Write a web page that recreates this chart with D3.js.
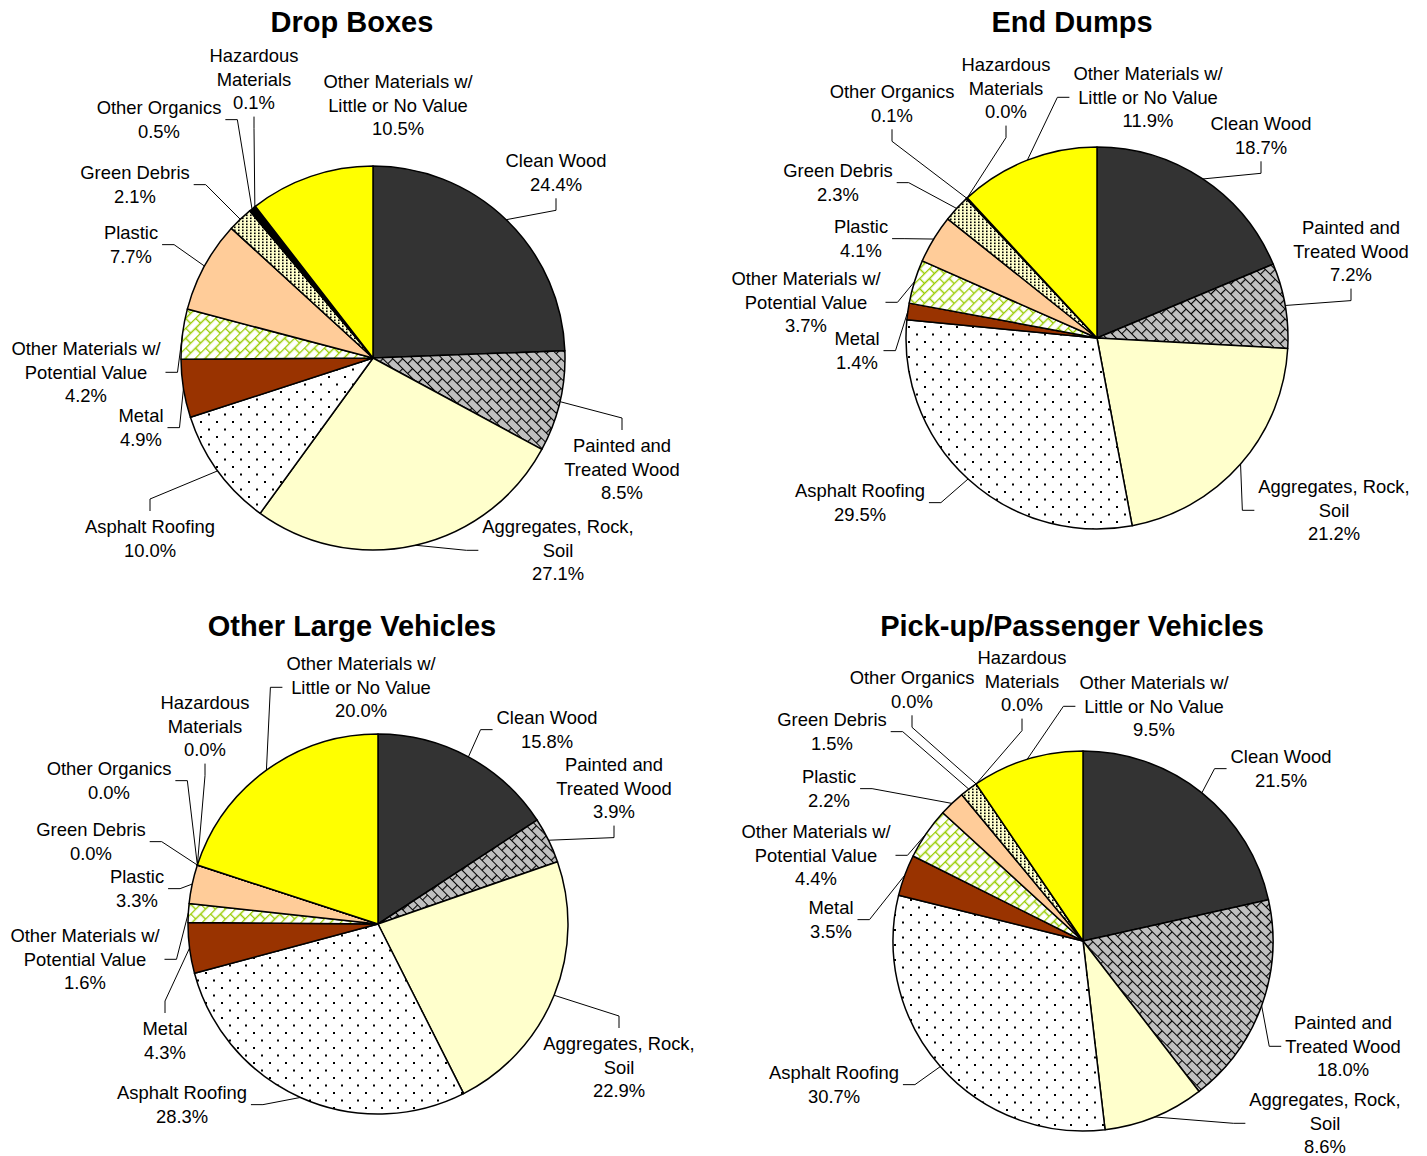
<!DOCTYPE html>
<html><head><meta charset="utf-8">
<script src="https://cdn.jsdelivr.net/npm/d3@7"></script>
<style>body{margin:0;background:#fff}</style></head>
<body><svg id="c" width="1427" height="1156"></svg>
<script>
// ---- DATA ----
const categories = ["Clean Wood","Painted and Treated Wood","Aggregates, Rock, Soil","Asphalt Roofing","Metal",
  "Other Materials w/ Potential Value","Plastic","Green Debris","Other Organics","Hazardous Materials",
  "Other Materials w/ Little or No Value"];
const categoryLabelLines = [["Clean Wood"],["Painted and","Treated Wood"],["Aggregates, Rock,","Soil"],["Asphalt Roofing"],["Metal"],
  ["Other Materials w/","Potential Value"],["Plastic"],["Green Debris"],["Other Organics"],["Hazardous","Materials"],
  ["Other Materials w/","Little or No Value"]];
const chartTitles = ["Drop Boxes","End Dumps","Other Large Vehicles","Pick-up/Passenger Vehicles"];
const dropBoxes  = [24.4, 8.5, 27.1, 10.0, 4.9, 4.2, 7.7, 2.1, 0.5, 0.1, 10.5];
const endDumps   = [18.7, 7.2, 21.2, 29.5, 1.4, 3.7, 4.1, 2.3, 0.1, 0.0, 11.9];
const otherLarge = [15.8, 3.9, 22.9, 28.3, 4.3, 1.6, 3.3, 0.0, 0.0, 0.0, 20.0];
const pickup     = [21.5, 18.0, 8.6, 30.7, 3.5, 4.4, 2.2, 1.5, 0.0, 0.0, 9.5];
const seriesValues = [dropBoxes, endDumps, otherLarge, pickup];

// ---- LAYOUT (positions / styles) ----
const layouts = [
 {cx:373, cy:358, r:192, tx:352, ty:32, labels:[
  [556,161,'b'],[622,446,'t'],[558,527,'l'],[150,527,'t'],[141,416,'r'],[86,349,'r'],[131,233,'r'],[135,173,'r'],[159,108,'r'],[254,56,'b'],[398,82,'n']]},
 {cx:1097, cy:338, r:191, tx:1072, ty:32, labels:[
  [1261,124,'b'],[1351,228,'b'],[1334,487,'l'],[860,491,'r'],[857,339,'r'],[806,279,'r'],[861,227,'r'],[838,171,'r'],[892,92,'b'],[1006,65,'b'],[1148,74,'l']]},
 {cx:378, cy:924, r:190, tx:352, ty:636, labels:[
  [547,718,'l'],[614,765,'b'],[619,1044,'t'],[182,1093,'r'],[165,1029,'t'],[85,936,'r'],[137,877,'r'],[91,830,'r'],[109,769,'r'],[205,703,'b'],[361,664,'l']]},
 {cx:1083, cy:941, r:190, tx:1072, ty:636, labels:[
  [1281,757,'l'],[1343,1023,'l'],[1325,1100,'l'],[834,1073,'r'],[831,908,'r'],[816,832,'r'],[829,777,'r'],[832,720,'r'],[912,678,'b'],[1022,658,'b'],[1154,683,'l']]}
];
const FONT = "'Liberation Sans', Arial, Helvetica, sans-serif";
const FS = 18.4, LH = 23.3;

const svg = d3.select("#c");
const defs = svg.append("defs");

// dotted (asphalt): staggered sparse dots
const pd = defs.append("pattern").attr("id","dots").attr("patternUnits","userSpaceOnUse").attr("width",16).attr("height",15);
pd.append("rect").attr("width",16).attr("height",15).attr("fill","#fff");
pd.append("rect").attr("x",3).attr("y",3).attr("width",2).attr("height",2).attr("fill","#000");
pd.append("rect").attr("x",11).attr("y",10.5).attr("width",2).attr("height",2).attr("fill","#000");
// green debris small dots
const pg = defs.append("pattern").attr("id","gdots").attr("patternUnits","userSpaceOnUse").attr("width",4).attr("height",3);
pg.append("rect").attr("width",4).attr("height",3).attr("fill","#FFFFCC");
pg.append("rect").attr("x",1).attr("y",0.5).attr("width",1.6).attr("height",1.6).attr("fill","#000");
// diagonal bricks
function brick(id, bg, fg, rot, sw){
  const p = defs.append("pattern").attr("id",id).attr("patternUnits","userSpaceOnUse")
    .attr("width",14).attr("height",14).attr("patternTransform",`rotate(${rot})`);
  p.append("rect").attr("width",14).attr("height",14).attr("fill",bg);
  p.append("path").attr("d","M0,0.5H14M0,7.5H14M0.5,0.5V7.5M7.5,7.5V14.5")
    .attr("stroke",fg).attr("stroke-width",sw).attr("fill","none");
}
brick("gbrick","#C0C0C0","#000",45,1.2);
brick("vbrick","#FFFFFF","#99CC00",-45,1.5);

const fills = ["#333333","url(#gbrick)","#FFFFCC","url(#dots)","#993300","url(#vbrick)","#FFCC99","url(#gdots)","#000000","#000000","#FFFF00"];

const pie = d3.pie().sort(null).value(d=>d);

seriesValues.forEach((vals, ci) => {
  const L = layouts[ci];
  const g = svg.append("g");
  const arcs = pie(vals);
  const arc = d3.arc().innerRadius(0).outerRadius(L.r);
  const pg2 = g.append("g").attr("transform",`translate(${L.cx},${L.cy})`);
  pg2.selectAll("path").data(arcs).join("path")
    .attr("d",arc).attr("fill",(d,i)=>fills[i])
    .attr("stroke","#000").attr("stroke-width",1.5).attr("stroke-linejoin","round");

  // title
  g.append("text").attr("x",L.tx).attr("y",L.ty).attr("text-anchor","middle")
    .attr("font-family",FONT).attr("font-weight","bold").attr("font-size",29).text(chartTitles[ci]);

  // labels
  arcs.forEach((a,i) => {
    const [lx, ly, stub] = L.labels[i];
    const lines = categoryLabelLines[i].concat([vals[i].toFixed(1)+"%"]);
    const t = g.append("text").attr("text-anchor","middle").attr("font-family",FONT).attr("font-size",FS).attr("fill","#000");
    lines.forEach((s,k)=> t.append("tspan").attr("x",lx).attr("y",ly + k*LH + 6.4).text(s));
    const bb = t.node().getBBox();
    const mid = (a.startAngle + a.endAngle)/2;
    const px = L.cx + L.r*Math.sin(mid), py = L.cy - L.r*Math.cos(mid);
    const midY = ly + (lines.length-1)*LH/2;
    const lastY = ly + (lines.length-1)*LH;
    let pts = null;
    if (stub === 'r') { const ex = bb.x + bb.width + 4; pts = [[ex,midY],[ex+12,midY],[px,py]]; }
    else if (stub === 'l') { const ex = bb.x - 4; pts = [[ex,midY],[ex-12,midY],[px,py]]; }
    else if (stub === 'b') { const ey = lastY + 14; pts = [[lx,ey],[lx,ey+12],[px,py]]; }
    else if (stub === 't') { const ey = ly - 16; pts = [[lx,ey],[lx,ey-12],[px,py]]; }
    if (pts) g.append("path").attr("d", d3.line()(pts)).attr("fill","none").attr("stroke","#000").attr("stroke-width",1);
  });
});
</script>
</body></html>
